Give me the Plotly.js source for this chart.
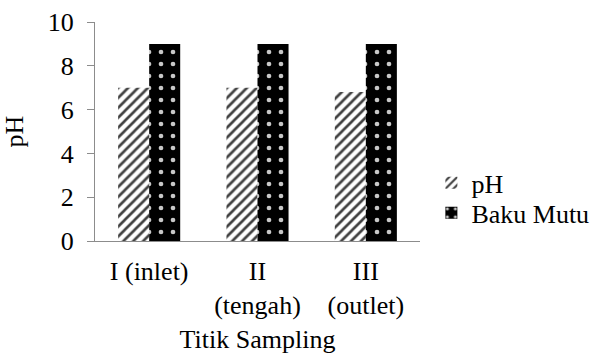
<!DOCTYPE html>
<html>
<head>
<meta charset="utf-8">
<script src="https://cdn.plot.ly/plotly-3.0.1.min.js"></script>
<style>html,body{margin:0;padding:0;background:#fff;}#chart{width:606px;height:354px;}</style>
</head>
<body>
<div id="chart"></div>
<script>
// Sampling points along the channel
const categories = ["I (inlet)", "II<br>(tengah)", "III<br>(outlet)"];
// Measured pH at each point
const phValues = [7.0, 7.0, 6.8];
// Quality standard (upper limit)
const bakuMutu = [9, 9, 9];
const yTicks = [0, 2, 4, 6, 8, 10];

const FONT = "'Liberation Serif', 'Times New Roman', serif";
const FS = 26;
const AXIS_GRAY = "#8c8c8c";

const traces = [
  {
    type: "bar",
    name: "pH",
    x: categories,
    y: phValues,
    legend: "legend",
    marker: {
      color: "#ffffff",
      line: {width: 0},
      pattern: {shape: "/", fgcolor: "#404040", bgcolor: "#ffffff", size: 7, solidity: 0.38}
    },
    hoverinfo: "skip"
  },
  {
    type: "bar",
    name: "Baku Mutu",
    x: categories,
    y: bakuMutu,
    legend: "legend2",
    marker: {
      color: "#000000",
      line: {width: 0},
      pattern: {shape: ".", fgcolor: "#c8c8c8", bgcolor: "#000000", size: 12, solidity: 0.12}
    },
    hoverinfo: "skip"
  }
];

// Two single-entry legends so the rows sit closer together
const legendBase = {
  x: 1.035, xanchor: "left", xref: "paper",
  yanchor: "middle",
  font: {family: FONT, size: FS, color: "#000000"},
  bgcolor: "rgba(0,0,0,0)",
  itemwidth: 30
};

const layout = {
  width: 606,
  height: 354,
  margin: {l: 95, r: 181, t: 22, b: 113},
  paper_bgcolor: "#ffffff",
  plot_bgcolor: "#ffffff",
  font: {family: FONT, size: FS, color: "#000000"},
  barmode: "group",
  bargap: 0.427,
  bargroupgap: 0,
  showlegend: true,
  legend: Object.assign({}, legendBase, {y: 0.265}),
  legend2: Object.assign({}, legendBase, {y: 0.128}),
  xaxis: {
    type: "category",
    automargin: false,
    showline: true,
    linecolor: AXIS_GRAY,
    linewidth: 1,
    ticks: "",
    showgrid: false,
    zeroline: false,
    tickfont: {family: FONT, size: FS},
    ticklabelstandoff: 7,
    title: {text: "Titik Sampling", font: {family: FONT, size: FS}, standoff: 10}
  },
  yaxis: {
    range: [0, 10],
    automargin: false,
    tickvals: yTicks,
    ticktext: yTicks.map(String),
    showline: true,
    linecolor: AXIS_GRAY,
    linewidth: 1,
    ticks: "outside",
    ticklen: 7,
    tickcolor: AXIS_GRAY,
    showgrid: false,
    zeroline: false,
    tickfont: {family: FONT, size: FS},
    ticklabelstandoff: 8,
    title: {text: "pH", font: {family: FONT, size: FS}, standoff: 16}
  }
};

Plotly.newPlot("chart", traces, layout, {displayModeBar: false, staticPlot: true});
</script>
</body>
</html>
